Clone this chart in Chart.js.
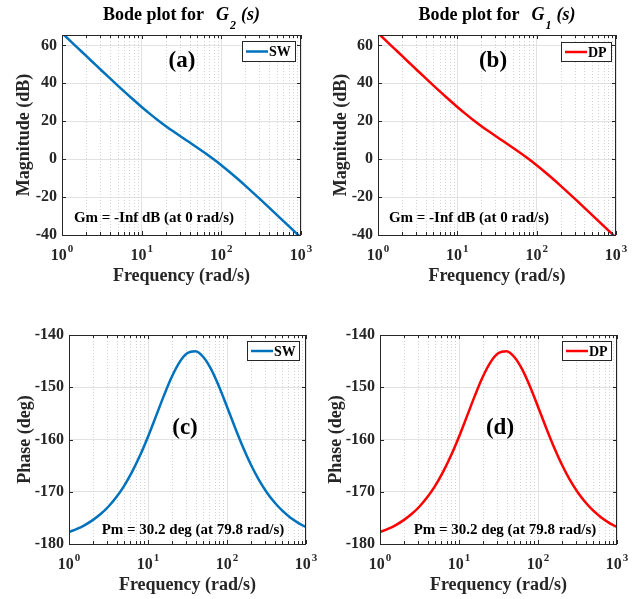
<!DOCTYPE html>
<html>
<head>
<meta charset="utf-8">
<script src="https://cdn.jsdelivr.net/npm/chart.js@4.4.0/dist/chart.umd.min.js"></script>
<style>
  html, body { margin: 0; padding: 0; background: #fff; overflow: hidden; }
  #wrap { position: relative; width: 639px; height: 599px; }
  canvas { position: absolute; }
</style>
</head>
<body>
<div id="wrap">
  <canvas id="cA" width="320" height="300" style="left:0;top:0"></canvas>
  <canvas id="cB" width="320" height="300" style="left:320px;top:0"></canvas>
  <canvas id="cC" width="320" height="300" style="left:0;top:300px"></canvas>
  <canvas id="cD" width="320" height="300" style="left:320px;top:300px"></canvas>
</div>
<script>
// Frequency grid (rad/s), ten points per decade
const freq = [1, 1.2589, 1.5849, 1.9953, 2.5119, 3.1623, 3.9811, 5.0119, 6.3096, 7.9433,
  10, 12.589, 15.849, 19.953, 25.119, 31.623, 39.811, 50.119, 63.096, 79.433,
  100, 125.89, 158.49, 199.53, 251.19, 316.23, 398.11, 501.19, 630.96, 794.33, 1000];

// Magnitude (dB)
const swMag = [66.55, 62.55, 58.57, 54.58, 50.61, 46.65, 42.72, 38.82, 34.97, 31.21,
  27.55, 24.04, 20.70, 17.54, 14.55, 11.69, 8.89, 6.06, 3.14, 0.07,
  -3.19, -6.62, -10.22, -13.94, -17.75, -21.62, -25.54, -29.49, -33.46, -37.44, -41.42];
const dpMag = [66.55, 62.55, 58.57, 54.58, 50.61, 46.65, 42.72, 38.82, 34.97, 31.21,
  27.55, 24.04, 20.70, 17.54, 14.55, 11.69, 8.89, 6.06, 3.14, 0.07,
  -3.19, -6.62, -10.22, -13.94, -17.75, -21.62, -25.54, -29.49, -33.46, -37.44, -41.42];

// Phase (deg)
const swPhase = [-177.70, -177.11, -176.37, -175.43, -174.27, -172.82, -171.02, -168.82, -166.16, -163.03,
  -159.46, -155.58, -151.65, -148.04, -145.18, -143.46, -143.12, -144.21, -146.58, -149.89,
  -153.72, -157.66, -161.40, -164.75, -167.63, -170.04, -172.02, -173.63, -174.92, -175.95, -176.78];
const dpPhase = [-177.70, -177.11, -176.37, -175.43, -174.27, -172.82, -171.02, -168.82, -166.16, -163.03,
  -159.46, -155.58, -151.65, -148.04, -145.18, -143.46, -143.12, -144.21, -146.58, -149.89,
  -153.72, -157.66, -161.40, -164.75, -167.63, -170.04, -172.02, -173.63, -174.92, -175.95, -176.78];

// Axis ticks
const decadeExp = [0, 1, 2, 3];
const magTicks = [-40, -20, 0, 20, 40, 60];
const phaseTicks = [-180, -170, -160, -150, -140];

const SERIF = '"Liberation Serif", "Times New Roman", serif';
const AXIS_GRAY = '#262626';
const BLUE = '#0072BD';
const RED = '#FF0000';

function minorFreqs() {
  const out = [];
  for (let d = 0; d < 3; d++) for (let m = 2; m <= 9; m++) out.push(m * Math.pow(10, d));
  return out;
}

function font(size, style) { return (style || 'bold') + ' ' + size + 'px ' + SERIF; }

// Draws the decorations of one Bode panel on top of the Chart.js axes
function panelPlugin(p) {
  return {
    id: 'panelDeco',
    beforeDatasetsDraw(chart) {
      const ctx = chart.ctx, a = chart.chartArea, xs = chart.scales.x;
      ctx.save();
      ctx.strokeStyle = '#d4d4d4';
      ctx.lineWidth = 1;
      ctx.setLineDash([1, 2]);
      minorFreqs().forEach(f => {
        const x = Math.round(xs.getPixelForValue(f)) + 0.5;
        ctx.beginPath(); ctx.moveTo(x, a.top); ctx.lineTo(x, a.bottom); ctx.stroke();
      });
      ctx.restore();
    },
    afterDraw(chart) {
      const ctx = chart.ctx, a = chart.chartArea, xs = chart.scales.x, ys = chart.scales.y;
      ctx.save();
      // box
      ctx.strokeStyle = AXIS_GRAY;
      ctx.lineWidth = 1;
      ctx.setLineDash([]);
      ctx.strokeRect(Math.round(a.left) + 0.5, Math.round(a.top) + 0.5,
        Math.round(a.right - a.left) - 1, Math.round(a.bottom - a.top));
      // inward ticks
      ctx.beginPath();
      decadeExp.forEach(e => {
        const x = Math.round(xs.getPixelForValue(Math.pow(10, e))) + 0.5;
        ctx.moveTo(x, a.bottom); ctx.lineTo(x, a.bottom - 4);
        ctx.moveTo(x, a.top); ctx.lineTo(x, a.top + 4);
      });
      minorFreqs().forEach(f => {
        const x = Math.round(xs.getPixelForValue(f)) + 0.5;
        ctx.moveTo(x, a.bottom); ctx.lineTo(x, a.bottom - 3);
        ctx.moveTo(x, a.top); ctx.lineTo(x, a.top + 3);
      });
      p.yTicks.forEach(v => {
        const y = Math.round(ys.getPixelForValue(v)) + 0.5;
        ctx.moveTo(a.left, y); ctx.lineTo(a.left + 4, y);
        ctx.moveTo(a.right, y); ctx.lineTo(a.right - 4, y);
      });
      ctx.stroke();

      // x tick labels 10^n
      ctx.fillStyle = AXIS_GRAY;
      ctx.textBaseline = 'alphabetic';
      decadeExp.forEach(e => {
        const x = xs.getPixelForValue(Math.pow(10, e));
        ctx.font = font(16);
        const wBase = ctx.measureText('10').width;
        ctx.font = font(11);
        const wExp = ctx.measureText(String(e)).width;
        const x0 = x - (wBase + 1 + wExp) / 2;
        ctx.textAlign = 'left';
        ctx.font = font(16);
        ctx.fillText('10', x0, a.bottom + 25);
        ctx.font = font(11);
        ctx.fillText(String(e), x0 + wBase + 1, a.bottom + 17);
      });

      // axis titles
      ctx.font = font(18);
      ctx.textAlign = 'center';
      ctx.fillText('Frequency (rad/s)', (a.left + a.right) / 2, a.bottom + 46);
      ctx.save();
      ctx.translate(p.yTitleX, (a.top + a.bottom) / 2);
      ctx.rotate(-Math.PI / 2);
      ctx.textBaseline = 'middle';
      ctx.fillText(p.yTitle, 0, 0);
      ctx.restore();

      // panel letter
      ctx.fillStyle = '#000';
      ctx.font = font(23);
      ctx.textAlign = 'center';
      ctx.textBaseline = 'middle';
      ctx.fillText(p.letter, p.letterPos[0], p.letterPos[1]);

      // margin note
      ctx.font = font(15);
      ctx.fillText(p.note, p.notePos[0], p.notePos[1]);

      // legend
      const L = p.legend;
      ctx.fillStyle = '#fff';
      ctx.fillRect(L.x, L.y, L.w, L.h);
      ctx.strokeStyle = AXIS_GRAY;
      ctx.lineWidth = 1;
      ctx.strokeRect(L.x + 0.5, L.y + 0.5, L.w, L.h);
      const ly = L.y + L.h / 2 + 0.5;
      ctx.strokeStyle = p.color;
      ctx.lineWidth = 2.5;
      ctx.beginPath(); ctx.moveTo(L.x + 4, ly); ctx.lineTo(L.x + 26, ly); ctx.stroke();
      ctx.fillStyle = '#000';
      ctx.font = font(14);
      ctx.textAlign = 'left';
      ctx.fillText(p.label, L.x + 27, ly + 1);

      // figure title
      if (p.title) {
        const t = p.title;
        ctx.textBaseline = 'alphabetic';
        ctx.font = font(18);
        const w1 = ctx.measureText('Bode plot for').width;
        ctx.font = font(18, 'italic bold');
        const wG = ctx.measureText('G').width;
        const wS = ctx.measureText('(s)').width;
        ctx.font = font(12, 'italic bold');
        const wSub = ctx.measureText(t.sub).width;
        const gap = 12, gap2 = 5;
        const total = w1 + gap + wG + 1 + wSub + gap2 + wS;
        let x = (a.left + a.right) / 2 - total / 2;
        ctx.textAlign = 'left';
        ctx.font = font(18);
        ctx.fillText('Bode plot for', x, 20);
        x += w1 + gap;
        ctx.font = font(18, 'italic bold');
        ctx.fillText('G', x, 20);
        x += wG + 1;
        ctx.font = font(12, 'italic bold');
        ctx.fillText(t.sub, x, 29);
        x += wSub + gap2;
        ctx.font = font(18, 'italic bold');
        ctx.fillText('(s)', x, 20);
      }
      ctx.restore();
    }
  };
}

function makePanel(id, p) {
  const canvas = document.getElementById(id);
  const W = canvas.width, H = canvas.height;
  const points = freq.map((f, i) => ({ x: f, y: p.values[i] }));
  return new Chart(canvas, {
    type: 'line',
    data: {
      datasets: [{
        label: p.label,
        data: points,
        borderColor: p.color,
        borderWidth: 2.5,
        pointRadius: 0,
        fill: false,
        cubicInterpolationMode: 'monotone'
      }]
    },
    options: {
      responsive: false,
      animation: false,
      events: [],
      layout: { padding: { left: 0, top: p.area.top, right: W - p.area.right, bottom: 0 } },
      plugins: { legend: { display: false }, title: { display: false }, tooltip: { enabled: false } },
      scales: {
        x: {
          type: 'logarithmic',
          min: 1, max: 1000,
          afterBuildTicks: s => { s.ticks = decadeExp.map(e => ({ value: Math.pow(10, e), major: true })); },
          afterFit: s => { s.height = H - p.area.bottom; },
          ticks: { display: false },
          grid: { color: '#e2e2e2', drawTicks: false },
          border: { display: false }
        },
        y: {
          type: 'linear',
          min: p.yMin, max: p.yMax,
          afterBuildTicks: s => { s.ticks = p.yTicks.map(v => ({ value: v })); },
          afterFit: s => { s.width = p.area.left; },
          ticks: {
            font: { family: SERIF, weight: 'bold', size: 16 },
            color: AXIS_GRAY,
            padding: 5
          },
          grid: { color: '#e2e2e2', drawTicks: false },
          border: { display: false }
        }
      }
    },
    plugins: [panelPlugin(p)]
  });
}

makePanel('cA', {
  values: swMag, color: BLUE, label: 'SW',
  area: { left: 62, top: 35, right: 301, bottom: 235 },
  yMin: -40, yMax: 65.5, yTicks: magTicks,
  yTitle: 'Magnitude (dB)', yTitleX: 24,
  letter: '(a)', letterPos: [182, 61],
  note: 'Gm = -Inf dB (at 0 rad/s)', notePos: [154, 218],
  legend: { x: 242, y: 41, w: 53, h: 20 },
  title: { sub: '2' }
});
makePanel('cB', {
  values: dpMag, color: RED, label: 'DP',
  area: { left: 58, top: 35, right: 296, bottom: 235 },
  yMin: -40, yMax: 65.5, yTicks: magTicks,
  yTitle: 'Magnitude (dB)', yTitleX: 21,
  letter: '(b)', letterPos: [173, 61],
  note: 'Gm = -Inf dB (at 0 rad/s)', notePos: [149, 218],
  legend: { x: 241, y: 42, w: 50, h: 19 },
  title: { sub: '1' }
});
makePanel('cC', {
  values: swPhase, color: BLUE, label: 'SW',
  area: { left: 69, top: 35, right: 306, bottom: 244 },
  yMin: -180, yMax: -140, yTicks: phaseTicks,
  yTitle: 'Phase (deg)', yTitleX: 25,
  letter: '(c)', letterPos: [185, 128],
  note: 'Pm = 30.2 deg (at 79.8 rad/s)', notePos: [193, 230],
  legend: { x: 247, y: 41, w: 52, h: 19 }
});
makePanel('cD', {
  values: dpPhase, color: RED, label: 'DP',
  area: { left: 60, top: 35, right: 297, bottom: 244 },
  yMin: -180, yMax: -140, yTicks: phaseTicks,
  yTitle: 'Phase (deg)', yTitleX: 16,
  letter: '(d)', letterPos: [180, 128],
  note: 'Pm = 30.2 deg (at 79.8 rad/s)', notePos: [185, 230],
  legend: { x: 242, y: 41, w: 49, h: 19 }
});
</script>
</body>
</html>
